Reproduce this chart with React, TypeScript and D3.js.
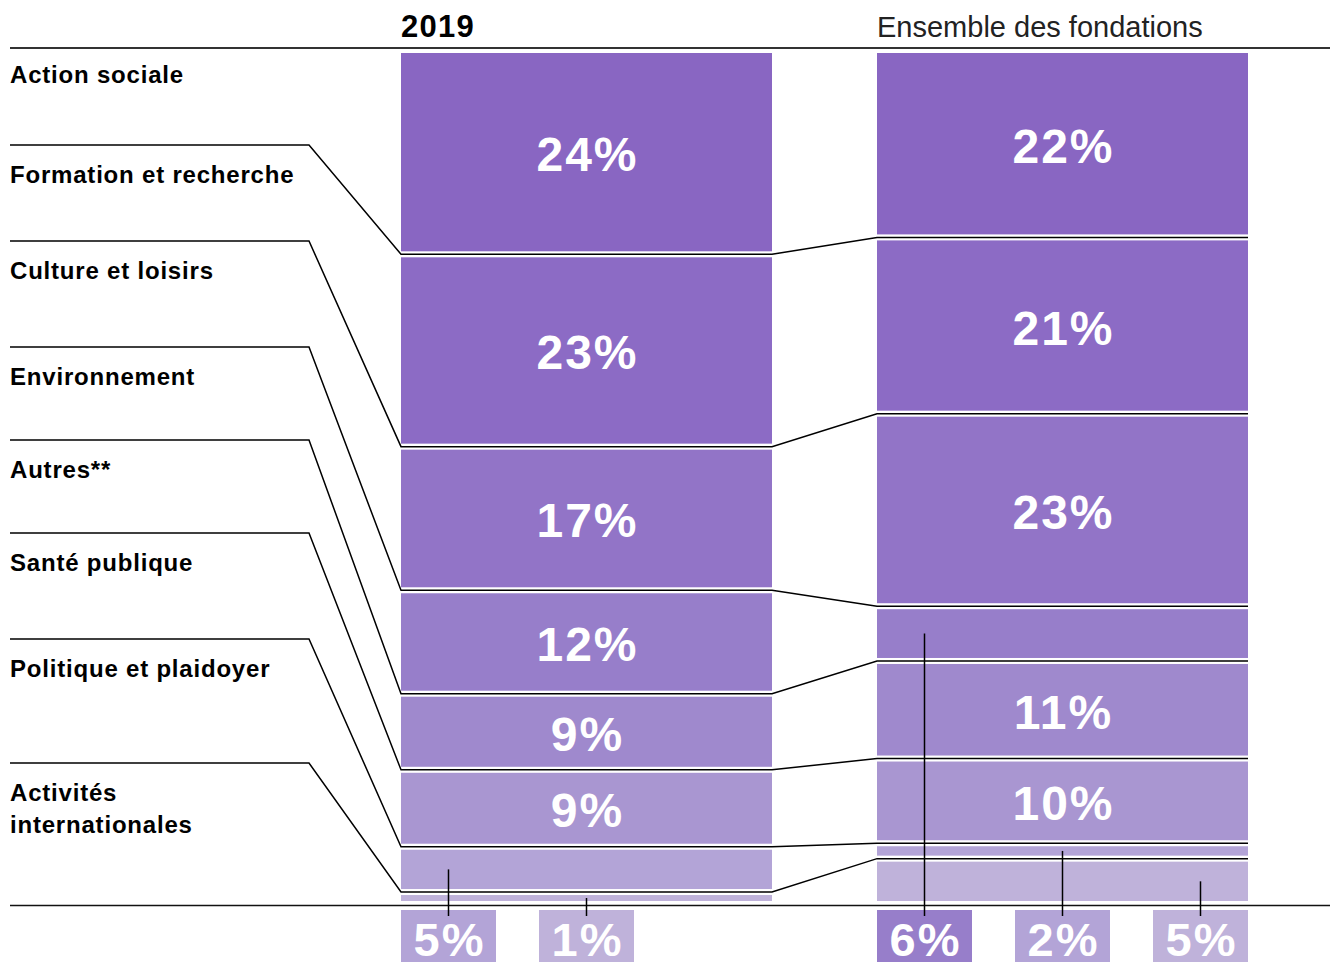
import React from "react";
import * as d3 from "d3";

// ---- Data ----
const categories = [
  "Action sociale",
  "Formation et recherche",
  "Culture et loisirs",
  "Environnement",
  "Autres**",
  "Santé publique",
  "Politique et plaidoyer",
  "Activités internationales",
];
// category labels as drawn (line breaks)
const categoryLines: string[][] = [
  ["Action sociale"],
  ["Formation et recherche"],
  ["Culture et loisirs"],
  ["Environnement"],
  ["Autres**"],
  ["Santé publique"],
  ["Politique et plaidoyer"],
  ["Activités", "internationales"],
];
const share2019 = [23.9, 22.5, 16.8, 12.1, 8.9, 9.0, 5.3, 1.4];
const shareAll = [21.9, 20.6, 22.5, 6.4, 11.4, 9.9, 1.8, 5.3];
const columnTitles = ["2019", "Ensemble des fondations"];

// ---- Styles / layout ----
const colors = [
  "#8966c2",
  "#8c6bc5",
  "#9274c7",
  "#977eca",
  "#9f89cd",
  "#a996d1",
  "#b3a4d7",
  "#bfb2da",
];
const W = 1330;
const H = 962;
const FONT = "'Liberation Sans', Arial, sans-serif";
const labelLineY = [48, 145, 241, 347, 440, 533, 639, 763];
const colX = [401, 877];
const colW = 371;
const GAP = 3;
const CALLOUT_MIN = 60;

export default function App() {
  const columns = [share2019, shareAll];
  const yScales = columns.map((vals) =>
    d3.scaleLinear().domain([0, d3.sum(vals)]).range([50, 904])
  );
  const cums = columns.map((vals) => [0, ...Array.from(d3.cumsum(vals))]);

  const segs: React.ReactNode[] = [];
  const callouts: React.ReactNode[] = [];
  columns.forEach((vals, ci) => {
    const y = yScales[ci];
    const c = cums[ci];
    const x0 = colX[ci];
    let k = 0;
    vals.forEach((v, i) => {
      const y0 = y(c[i]);
      const y1 = y(c[i + 1]);
      const h = y1 - y0 - 2 * GAP;
      const label = `${Math.round(v)}%`;
      segs.push(
        <rect
          key={`r${ci}-${i}`}
          x={x0}
          y={y0 + GAP}
          width={colW}
          height={h}
          fill={colors[i]}
        />
      );
      if (h >= CALLOUT_MIN) {
        segs.push(
          <text
            key={`t${ci}-${i}`}
            x={x0 + colW / 2 + 1}
            y={(y0 + y1) / 2 + 19}
            textAnchor="middle"
            fill="#fff"
            fontFamily={FONT}
            fontWeight="bold"
            fontSize={48}
            letterSpacing={2}
          >
            {label}
          </text>
        );
      } else {
        const bx = x0 + k * 138;
        const cx = bx + 47.5;
        k++;
        callouts.push(
          <g key={`c${ci}-${i}`}>
            <rect x={bx} y={910} width={95} height={60} fill={colors[i]} />
            <text
              x={cx + 1}
              y={956}
              textAnchor="middle"
              fill="#fff"
              fontFamily={FONT}
              fontWeight="bold"
              fontSize={47}
              letterSpacing={2}
            >
              {label}
            </text>
            <line
              x1={cx}
              x2={cx}
              y1={(y0 + y1) / 2}
              y2={916}
              stroke="#000"
              strokeWidth={1.5}
            />
          </g>
        );
      }
    });
  });

  const boundaryPaths = categories.slice(1).map((_, j) => {
    const i = j + 1;
    const yl = yScales[0](cums[0][i]);
    const yr = yScales[1](cums[1][i]);
    const ly = labelLineY[i];
    const pts: [number, number][] = [
      [10, ly],
      [309, ly],
      [colX[0], yl],
      [colX[0] + colW, yl],
      [colX[1], yr],
      [colX[1] + colW, yr],
    ];
    return (
      <path
        key={`b${i}`}
        d={d3.line()(pts) || ""}
        fill="none"
        stroke="#000"
        strokeWidth={1.5}
      />
    );
  });

  return (
    <svg
      width={W}
      height={H}
      style={{ position: "absolute", left: 0, top: 0, background: "#fff" }}
    >
      <rect width={W} height={H} fill="#fff" />
      <text
        x={colX[0]}
        y={37}
        fontFamily={FONT}
        fontWeight="bold"
        fontSize={31}
        letterSpacing={1.3}
        fill="#000"
      >
        {columnTitles[0]}
      </text>
      <text x={colX[1]} y={37} fontFamily={FONT} fontSize={29} fill="#222">
        {columnTitles[1]}
      </text>
      <line x1={10} x2={W} y1={48} y2={48} stroke="#333" strokeWidth={2} />
      {segs}
      {boundaryPaths}
      <line x1={10} x2={W} y1={905.5} y2={905.5} stroke="#111" strokeWidth={1.5} />
      {callouts}
      {categoryLines.map((lines, i) => (
        <text
          key={`l${i}`}
          x={10}
          y={i === 0 ? 83 : labelLineY[i] + 38}
          fontFamily={FONT}
          fontWeight="bold"
          fontSize={24}
          letterSpacing={0.8}
          fill="#000"
        >
          {lines.map((s, li) => (
            <tspan key={li} x={10} dy={li === 0 ? 0 : 32}>
              {s}
            </tspan>
          ))}
        </text>
      ))}
    </svg>
  );
}
